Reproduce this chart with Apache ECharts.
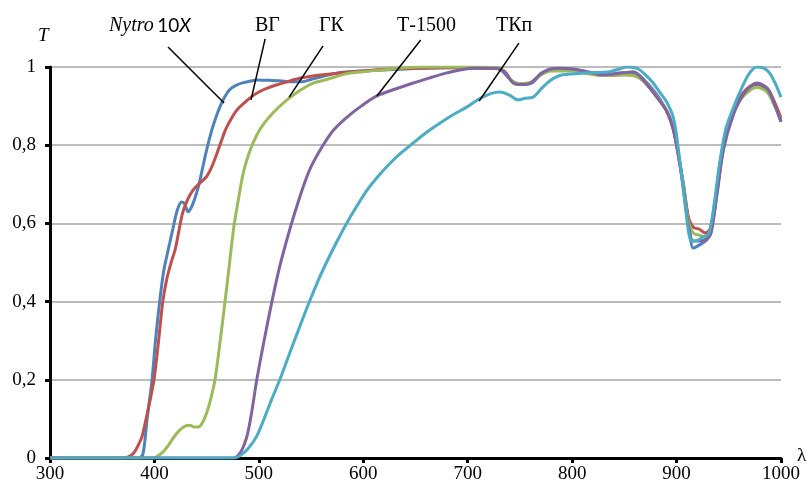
<!DOCTYPE html>
<html><head><meta charset="utf-8">
<script src="https://cdn.jsdelivr.net/npm/echarts@6/dist/echarts.min.js"></script>
<style>html,body{margin:0;padding:0;background:#fff}#c{width:811px;height:489px}</style>
</head><body><div id="c"></div>
<script>
// Wavelength (nm) and transmittance for each series
const nytroX = [300,385,389,393,397.7,401,405,409,413,418,422,426,429,432,436,442,446,450,455,459,463,467,472,478,485,492,498,510,520,530,540,550,560,576,600,640,680,720,730,740,745,755,762,770,780,800,815,830,850,860,868,881,888,895,900,906,911,916,922,929,933,939,945,954,964,977,987,993,1000];
const nytroT = [0,0,0.01,0.1,0.2,0.3,0.4,0.48,0.53,0.59,0.635,0.655,0.65,0.63,0.645,0.693,0.74,0.788,0.839,0.872,0.9,0.922,0.942,0.953,0.96,0.964,0.967,0.966,0.965,0.962,0.962,0.968,0.975,0.985,0.99,0.995,0.998,0.997,0.995,0.97,0.958,0.957,0.96,0.982,0.995,0.995,0.985,0.98,0.985,0.985,0.97,0.93,0.9,0.86,0.8,0.71,0.616,0.537,0.545,0.558,0.58,0.685,0.795,0.88,0.93,0.955,0.94,0.91,0.86];

const vgX = [300,370,375,380,384,388,392,396,399.6,404,408,412,416,420,423,427,432,437,443,450,455,460,464,468,473,479,486,492.5,500,508,518,527,539,555,575,600,620,650,690,725,735,742,750,760,770,780,800,815,830,850,860,868,881,890,897,902,907,911,916,922,927,932,937,942,948,955,964,977,987,993,1000];
const vgT = [0,0,0.003,0.012,0.03,0.054,0.1,0.15,0.2,0.3,0.4,0.46,0.5,0.535,0.575,0.627,0.662,0.685,0.702,0.72,0.745,0.78,0.81,0.839,0.865,0.89,0.908,0.923,0.936,0.946,0.955,0.962,0.971,0.978,0.984,0.99,0.994,0.997,0.999,0.997,0.99,0.965,0.957,0.96,0.98,0.993,0.993,0.985,0.978,0.98,0.978,0.965,0.925,0.89,0.84,0.77,0.69,0.62,0.59,0.585,0.576,0.585,0.66,0.76,0.84,0.89,0.935,0.958,0.945,0.915,0.87];

const gkX = [300,398,402,408,414,419,424.5,430,434,438,442,446,450,454,458,463,467.6,472,476,480,485,490,494.5,501,508,517,527,540,552,565,584.5,600,616,654,700,728,735,742,750,760,770,780,800,815,830,850,860,868,881,890,897,902,907,911,916,922,927,932,937,942,948,955,964,977,987,993,1000];
const gkT = [0,0,0.003,0.015,0.035,0.055,0.072,0.082,0.084,0.079,0.079,0.09,0.115,0.152,0.2,0.3,0.4,0.5,0.59,0.655,0.728,0.775,0.806,0.84,0.866,0.892,0.916,0.941,0.959,0.968,0.983,0.988,0.992,1.0,1.0,0.998,0.99,0.965,0.958,0.96,0.98,0.99,0.99,0.983,0.978,0.98,0.977,0.965,0.925,0.89,0.845,0.77,0.69,0.61,0.575,0.57,0.565,0.575,0.65,0.75,0.83,0.885,0.925,0.948,0.935,0.905,0.865];

const t1500X = [300,476,480,484,488,491,494.5,498,505,512.5,520,527,533,542,550,561.5,572,584.5,598,613,630,648,665,680,705,728,736,743.5,752,760,771,785.6,800,815,830,849,858.6,868,881,891,897,902,907,911,916,922,929,933,939,945,954,964,977,987,993,1000];
const t1500T = [0,0,0.006,0.022,0.05,0.085,0.14,0.2,0.3,0.4,0.49,0.56,0.615,0.69,0.745,0.8,0.84,0.872,0.9,0.926,0.943,0.959,0.973,0.985,0.997,0.997,0.985,0.959,0.955,0.958,0.985,0.997,0.995,0.988,0.98,0.985,0.988,0.967,0.923,0.885,0.839,0.77,0.68,0.6,0.555,0.555,0.56,0.575,0.68,0.79,0.875,0.93,0.959,0.945,0.91,0.86];

const tkpX = [300,477,483,490,498,505,512,520,527,534,541,548,557,566,575,584,594,603.6,614,625.7,637,648,660,673.6,686,699.4,712,722,731,740,748,755,762.6,770,776,783,791,814,836,845,852.7,860,865,871,877.6,884,891,897,900.6,905,909,913,918,925,931,936,941,947,955,963,970,977,983,989,995,1000];
const tkpT = [0,0,0.008,0.025,0.056,0.1,0.148,0.2,0.25,0.3,0.349,0.397,0.455,0.507,0.555,0.6,0.645,0.685,0.72,0.754,0.782,0.806,0.832,0.857,0.878,0.898,0.92,0.932,0.936,0.928,0.916,0.92,0.923,0.943,0.959,0.972,0.98,0.985,0.988,0.995,1.0,0.998,0.992,0.978,0.959,0.935,0.908,0.87,0.813,0.72,0.63,0.56,0.555,0.565,0.575,0.65,0.75,0.84,0.9,0.95,0.985,1.0,0.998,0.985,0.955,0.923];

const seriesNames = ['Nytro 10X','ВГ','ГК','Т-1500','ТКп'];
const xTicks = [300,400,500,600,700,800,900,1000];
const yTicks = [0,0.2,0.4,0.6,0.8,1];

// leader lines: [λ, T] start (near label) and end (on curve)
const leaders = [
  [[413,1.051],[466.7,0.908]],
  [[506,1.072],[492.5,0.916]],
  [[561.5,1.054],[529,0.923]],
  [[655,1.069],[613,0.926]],
  [[749,1.061],[711,0.913]]
];

const colors = ['#4F81BD','#C0504D','#9BBB59','#8064A2','#4BACC6'];
const xs = [nytroX,vgX,gkX,t1500X,tkpX];
const ts = [nytroT,vgT,gkT,t1500T,tkpT];

const zip = (a,b)=>a.map((v,i)=>[v,b[i]]);
const serif = 'Liberation Serif';

const series = seriesNames.map((n,i)=>({
  name:n, type:'line', data: zip(xs[i],ts[i]), showSymbol:false, symbol:'none',
  smooth:0.3, lineStyle:{color:colors[i], width:3}, itemStyle:{color:colors[i]}, z:2+i
}));
leaders.forEach((l,i)=>series.push({
  type:'line', data:l, showSymbol:false, symbol:'none', clip:false, silent:true,
  lineStyle:{color:'#000', width:1.5}, z:10
}));

const chart = echarts.init(document.getElementById('c'), null, {renderer:'canvas'});
chart.setOption({
  animation:false,
  backgroundColor:'#fff',
  grid:{left:50, right:30, top:67, bottom:31, containLabel:false},
  xAxis:{type:'value', min:xTicks[0], max:xTicks[xTicks.length-1], interval:100,
    axisLine:{lineStyle:{color:'#000', width:3}},
    axisTick:{show:true, length:5, lineStyle:{color:'#000', width:3}},
    axisLabel:{color:'#000', fontFamily:serif, fontSize:19, margin:7, formatter:v=>String(v)},
    splitLine:{show:false}},
  yAxis:{type:'value', min:yTicks[0], max:yTicks[yTicks.length-1], interval:0.2,
    axisLine:{show:true, lineStyle:{color:'#000', width:3}},
    axisTick:{show:true, length:5, lineStyle:{color:'#000', width:3}},
    axisLabel:{color:'#000', fontFamily:serif, fontSize:19, margin:14,
      formatter:v=>String(+v.toFixed(1)).replace('.',',')},
    splitLine:{show:true, lineStyle:{color:'#a6a6a6', width:1.5}}},
  series:series,
  graphic:[
    {type:'text', left:38, top:26, style:{text:'T', font:'italic 19px "Liberation Serif"', fill:'#000'}},
    {type:'text', left:797, top:447, style:{text:'λ', font:'19px "Liberation Serif"', fill:'#000'}},
    {type:'text', left:109, top:16, style:{
      text:'{a|Nytro} {b|10}{c|X}',
      rich:{a:{fontFamily:serif, fontStyle:'italic', fontSize:20, fill:'#000'},
            b:{fontFamily:'Lato', fontSize:19, fill:'#000'},
            c:{fontFamily:'Lato', fontStyle:'italic', fontSize:19, fill:'#000'}}}},
    {type:'text', left:255, top:16, style:{text:'ВГ', font:'20px "Liberation Serif"', fill:'#000'}},
    {type:'text', left:319, top:16, style:{text:'ГК', font:'20px "Liberation Serif"', fill:'#000'}},
    {type:'text', left:397, top:16, style:{text:'Т-1500', font:'20px "Liberation Serif"', fill:'#000'}},
    {type:'text', left:496, top:16, style:{text:'ТКп', font:'20px "Liberation Serif"', fill:'#000'}}
  ]
});
</script></body></html>
